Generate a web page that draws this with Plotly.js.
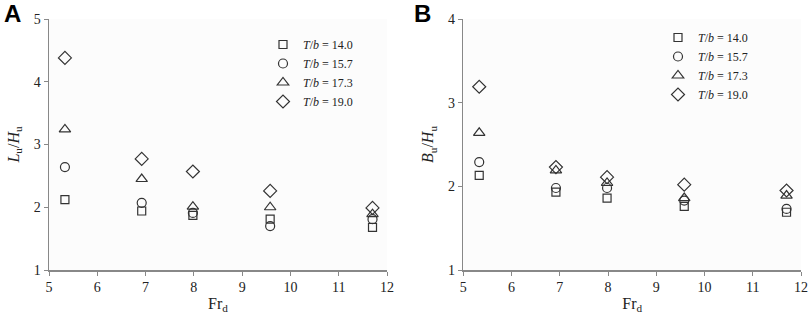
<!DOCTYPE html>
<html>
<head>
<meta charset="utf-8">
<script src="https://cdn.plot.ly/plotly-3.0.1.min.js"></script>
<style>body{margin:0;padding:0;background:#fff}#chart{width:809px;height:314px}</style>
</head>
<body>
<div id="chart"></div>
<script>
const frd = [5.33, 6.92, 7.98, 9.58, 11.7];
const seriesNames = ['<i>T</i>/<i>b</i> = 14.0', '<i>T</i>/<i>b</i> = 15.7', '<i>T</i>/<i>b</i> = 17.3', '<i>T</i>/<i>b</i> = 19.0'];
const symbols = ['square-open', 'circle-open', 'triangle-up-open', 'diamond-open'];
// Panel A: Lu/Hu
const luA_140 = [2.12, 1.94, 1.87, 1.81, 1.68];
const luA_157 = [2.64, 2.07, 1.91, 1.70, 1.81];
const luA_173 = [3.24, 2.45, 2.01, 2.00, 1.89];
const luA_190 = [4.38, 2.77, 2.57, 2.26, 1.99];
// Panel B: Bu/Hu
const buB_140 = [2.13, 1.93, 1.86, 1.76, 1.69];
const buB_157 = [2.29, 1.98, 1.98, 1.83, 1.73];
const buB_173 = [2.64, 2.19, 2.04, 1.86, 1.89];
const buB_190 = [3.19, 2.23, 2.11, 2.02, 1.95];

const A = [luA_140, luA_157, luA_173, luA_190];
const B = [buB_140, buB_157, buB_173, buB_190];
const sizes = [8, 9, 10, 10];
const traces = [];
A.forEach((ys, i) => traces.push({
  x: frd, y: ys, type: 'scatter', mode: 'markers', name: seriesNames[i],
  marker: {symbol: symbols[i], size: sizes[i], color: '#333', line: {width: 1.2, color: '#333'}},
  xaxis: 'x', yaxis: 'y', legend: 'legend'
}));
B.forEach((ys, i) => traces.push({
  x: frd, y: ys, type: 'scatter', mode: 'markers', name: seriesNames[i],
  marker: {symbol: symbols[i], size: sizes[i], color: '#333', line: {width: 1.2, color: '#333'}},
  xaxis: 'x2', yaxis: 'y2', legend: 'legend2'
}));

const font = {family: 'Liberation Serif, Times New Roman, serif', size: 14, color: '#222'};
const axBase = {
  showgrid: false, zeroline: false, showline: true, linecolor: '#888', linewidth: 1.5,
  ticks: 'outside', ticklen: 4, tickcolor: '#888', tickwidth: 1, tickfont: font, mirror: false
};
const L = 49, W = 752;
const layout = {
  width: 809, height: 314,
  margin: {l: L, r: 8, t: 19, b: 44},
  paper_bgcolor: '#fff', plot_bgcolor: '#fcfcfc',
  font: font,
  showlegend: true,
  xaxis: Object.assign({}, axBase, {domain: [0, 338/W], range: [5, 12], dtick: 1, anchor: 'y',
    title: {text: 'Fr<sub>d</sub>', font: {family: font.family, size: 16, color: '#222'}, standoff: 6}}),
  yaxis: Object.assign({}, axBase, {domain: [0, 1], range: [1, 5], dtick: 1, anchor: 'x',
    title: {text: '<i>L</i><sub>u</sub>/<i>H</i><sub>u</sub>', font: {family: font.family, size: 16, color: '#222'}, standoff: 10}}),
  xaxis2: Object.assign({}, axBase, {domain: [414.3/W, 1], range: [5, 12], dtick: 1, anchor: 'y2',
    title: {text: 'Fr<sub>d</sub>', font: {family: font.family, size: 16, color: '#222'}, standoff: 6}}),
  yaxis2: Object.assign({}, axBase, {domain: [0, 1], range: [1, 4], dtick: 1, anchor: 'x2',
    title: {text: '<i>B</i><sub>u</sub>/<i>H</i><sub>u</sub>', font: {family: font.family, size: 16, color: '#222'}, standoff: 10}}),
  legend: {x: (263 - L)/W, y: 1 - (30 - 19)/251, xanchor: 'left', yanchor: 'top',
    bgcolor: 'rgba(0,0,0,0)', font: {family: font.family, size: 12, color: '#222'}, tracegroupgap: 0, itemwidth: 30},
  legend2: {x: (658 - L)/W, y: 1 - (23 - 19)/251, xanchor: 'left', yanchor: 'top',
    bgcolor: 'rgba(0,0,0,0)', font: {family: font.family, size: 12, color: '#222'}, tracegroupgap: 0, itemwidth: 30},
  annotations: [
    {text: '<b>A</b>', xref: 'paper', yref: 'paper', x: -L/W, y: 1 + 19/251, xanchor: 'left', yanchor: 'top',
      showarrow: false, font: {family: 'Liberation Sans, Arial, sans-serif', size: 24, color: '#000'}, xshift: 2, yshift: 2},
    {text: '<b>B</b>', xref: 'paper', yref: 'paper', x: (412 - L)/W, y: 1 + 19/251, xanchor: 'left', yanchor: 'top',
      showarrow: false, font: {family: 'Liberation Sans, Arial, sans-serif', size: 24, color: '#000'}, yshift: 2}
  ]
};
Plotly.newPlot('chart', traces, layout, {displayModeBar: false, staticPlot: true});
</script>
</body>
</html>
